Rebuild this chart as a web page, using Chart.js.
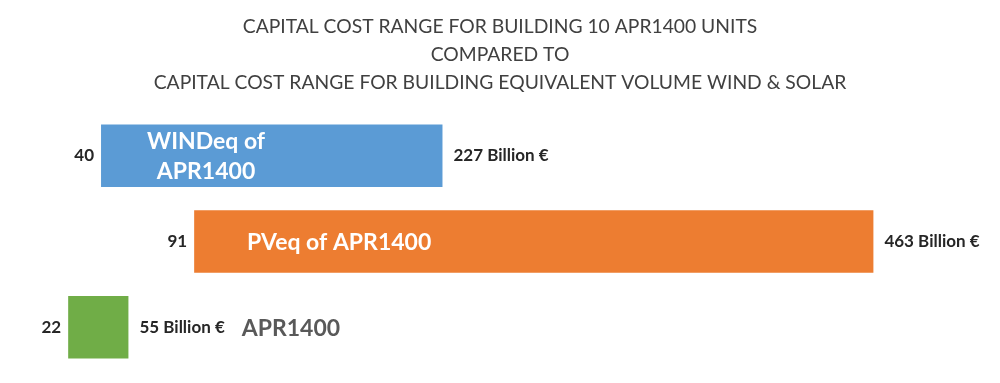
<!DOCTYPE html>
<html>
<head>
<meta charset="utf-8">
<script src="https://cdn.jsdelivr.net/npm/chart.js@4"></script>
<style>
  html, body { margin: 0; padding: 0; background: #fff; }
  #wrap { width: 1000px; height: 383px; }
</style>
</head>
<body>
<div id="wrap"><canvas id="chart"></canvas></div>
<script>
// chart data
var categories = ["WINDeq", "PVeq", "APR1400"];
var lowValues = [40, 91, 22];
var highValues = [227, 463, 55];
var lowLabels = ["40", "91", "22"];
var highLabels = ["227 Billion €", "463 Billion €", "55 Billion €"];
var innerLabels = [["WINDeq of", "APR1400"], ["PVeq of APR1400"], ["APR1400"]];
var titleLines = [
  "CAPITAL COST RANGE FOR BUILDING 10 APR1400 UNITS",
  "COMPARED TO",
  "CAPITAL COST RANGE FOR BUILDING EQUIVALENT VOLUME WIND & SOLAR"
];

var barColors = ["#5B9BD5", "#ED7D31", "#70AD47"];

// labels next to and inside the bars
var barLabels = {
  id: "barLabels",
  afterDatasetsDraw: function(chart) {
    var ctx = chart.ctx;
    var meta = chart.getDatasetMeta(0);
    ctx.save();
    ctx.textBaseline = "middle";
    meta.data.forEach(function(bar, i) {
      var left = Math.min(bar.x, bar.base);
      var right = Math.max(bar.x, bar.base);
      var y = bar.y;

      ctx.font = "bold 17px Lato";
      ctx.fillStyle = "#262626";
      ctx.textAlign = "right";
      ctx.fillText(lowLabels[i], left - 7, y);
      ctx.textAlign = "left";
      ctx.fillText(highLabels[i], right + 11, y);
      var highWidth = ctx.measureText(highLabels[i]).width;

      ctx.font = "bold 23px Lato";
      var lines = innerLabels[i];
      if (i === 2) {
        // label outside the small bar
        ctx.fillStyle = "#595959";
        ctx.textAlign = "left";
        ctx.fillText(lines[0], right + 11 + highWidth + 17, y + 1);
      } else {
        ctx.fillStyle = "#ffffff";
        ctx.textAlign = "center";
        var cx = i === 0 ? left + 105 : left + 145;
        var step = 30;
        var y0 = y - (lines.length - 1) * step / 2 + 1;
        lines.forEach(function(t, k) {
          ctx.fillText(t, cx, y0 + k * step);
        });
      }
    });
    ctx.restore();
  }
};

var floatData = categories.map(function(c, i) {
  return [lowValues[i], highValues[i]];
});

new Chart(document.getElementById("chart"), {
  type: "bar",
  data: {
    labels: categories,
    datasets: [{
      data: floatData,
      backgroundColor: barColors,
      borderWidth: 0,
      borderSkipped: false,
      categoryPercentage: 1.0,
      barPercentage: 0.73
    }]
  },
  options: {
    indexAxis: "y",
    responsive: true,
    maintainAspectRatio: false,
    animation: false,
    layout: { padding: { left: 28, right: 28, top: 0, bottom: 13 } },
    scales: {
      x: { min: 0, max: 517, display: false },
      y: { display: false }
    },
    plugins: {
      legend: { display: false },
      tooltip: { enabled: false },
      title: {
        display: true,
        text: titleLines,
        color: "#404040",
        font: { family: "Lato", size: 19.3, weight: "normal", lineHeight: 1.45 },
        padding: { top: 13, bottom: 16 }
      }
    }
  },
  plugins: [barLabels]
});
</script>
</body>
</html>
